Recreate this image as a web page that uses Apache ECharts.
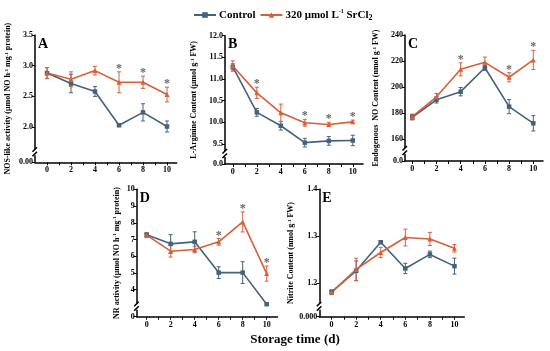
<!DOCTYPE html>
<html><head><meta charset="utf-8">
<script src="https://cdn.jsdelivr.net/npm/echarts@6/dist/echarts.min.js"></script>
<style>html,body{margin:0;padding:0;background:#fff}#c{width:550px;height:351px}</style>
</head><body><div id="c"></div><script>
// ---- data ----
const days = [0, 2, 4, 6, 8, 10];
const xTickVals = [0, 1, 2, 3, 4, 5, 6, 7, 8, 9, 10];
const xLabelVals = [0, 2, 4, 6, 8, 10];
const ctrlName = 'Control';
const trtName = '320 umol L-1 SrCl2';

// A: NOS-like activity
const ctrlA = [2.88, 2.71, 2.58, 2.03, 2.24, 2.01];
const ctrlAErr = [0.09, 0.15, 0.08, 0.02, 0.14, 0.09];
const trtA = [2.88, 2.78, 2.92, 2.73, 2.73, 2.53];
const trtAErr = [0.09, 0.12, 0.07, 0.17, 0.10, 0.12];
const sigA = [6, 8, 10];
const yTicksA = [2.0, 2.5, 3.0, 3.5];
const yBottomA = '0.00';

// B: L-Arginine
const ctrlB = [11.28, 10.23, 9.92, 9.53, 9.57, 9.58];
const ctrlBErr = [0.07, 0.09, 0.10, 0.10, 0.10, 0.12];
const trtB = [11.30, 10.68, 10.22, 9.99, 9.95, 10.01];
const trtBErr = [0.12, 0.13, 0.20, 0.08, 0.05, 0.04];
const sigB = [2, 6, 8, 10];
const yTicksB = [9.5, 10.0, 10.5, 11.0, 11.5, 12.0];
const yBottomB = '0.0';

// C: Endogenous NO
const ctrlC = [176.7, 190.2, 196.4, 214.8, 184.9, 172.1];
const ctrlCErr = [2, 2.5, 3.2, 2, 5.4, 5.9];
const trtC = [177.2, 192.5, 213.6, 219.0, 207.5, 220.8];
const trtCErr = [2, 2.5, 5, 4, 3.5, 7.4];
const sigC = [4, 8, 10];
const yTicksC = [160, 180, 200, 220, 240];
const yBottomC = '0.0';

// D: NR activity
const ctrlD = [7.28, 6.74, 6.86, 5.02, 5.02, 3.13];
const ctrlDErr = [0.10, 0.55, 0.60, 0.35, 0.65, 0.05];
const trtD = [7.26, 6.30, 6.40, 6.86, 8.05, 4.96];
const trtDErr = [0.15, 0.35, 0.20, 0.20, 0.60, 0.45];
const sigD = [6, 8, 10];
const yTicksD = [4, 5, 6, 7, 8, 9, 10];
const yBottomD = '0';

// E: Nitrite
const ctrlE = [1.181, 1.226, 1.287, 1.231, 1.261, 1.236];
const ctrlEErr = [0.004, 0.021, 0.003, 0.011, 0.007, 0.017];
const trtE = [1.180, 1.229, 1.265, 1.297, 1.294, 1.274];
const trtEErr = [0.004, 0.024, 0.011, 0.018, 0.014, 0.008];
const sigE = [];
const yTicksE = [1.2, 1.3, 1.4];
const yBottomE = '0.000';

// ---- layout / style ----
const FONT = '"Liberation Serif", "Times New Roman", serif';
const C_CTRL = '#44627c';
const C_TRT = '#d6603a';

const panels = [
  {letter:'A', ctrl:ctrlA, ce:ctrlAErr, trt:trtA, te:trtAErr, sig:sigA, ticks:yTicksA, bottom:yBottomA, dec:1,
   yMin:1.427, yMax:3.5, xMin:-1.0, xMax:10.8, left:35, top:35, width:141.6, height:127.3, gap:23,
   name:'NOS-like activity (μmol NO h{s|-1} mg{s|-1} protein)'},
  {letter:'B', ctrl:ctrlB, ce:ctrlBErr, trt:trtB, te:trtBErr, sig:sigB, ticks:yTicksB, bottom:yBottomB, dec:1,
   yMin:9.037, yMax:12.0, xMin:-0.65, xMax:10.85, left:225, top:35.7, width:138, height:128.3, gap:27,
   name:'L-Arginine Content (μmol g{s|-1} FW)'},
  {letter:'C', ctrl:ctrlC, ce:ctrlCErr, trt:trtC, te:trtCErr, sig:sigC, ticks:yTicksC, bottom:yBottomC, dec:0,
   yMin:143.1, yMax:240, xMin:-0.6, xMax:10.8, left:405, top:35, width:138, height:126,  gap:25,
   name:'Endogenous  NO Content (nmol g{s|-1} FW)'},
  {letter:'D', ctrl:ctrlD, ce:ctrlDErr, trt:trtD, te:trtDErr, sig:sigD, ticks:yTicksD, bottom:yBottomD, dec:0,
   yMin:2.385, yMax:10, xMin:-0.83, xMax:10.9, left:136.7, top:189.3, width:140.8, height:127.4, gap:16,
   name:'NR activity (μmol NO h{s|-1} mg{s|-1} protein)'},
  {letter:'E', ctrl:ctrlE, ce:ctrlEErr, trt:trtE, te:trtEErr, sig:sigE, ticks:yTicksE, bottom:yBottomE, dec:1,
   yMin:1.128, yMax:1.4, xMin:-1.0, xMax:10.8, left:319.3, top:189.3, width:145, height:127.4, gap:16,
   name:'Nitrite Content (nmol g{s|-1} FW)'}
];

function errRender(params, api) {
  const x = api.value(0), y = api.value(1), e = api.value(2);
  const t = api.coord([x, y + e]), b = api.coord([x, y - e]);
  const hw = 2;
  const style = {stroke: api.visual('color'), lineWidth: 1};
  return {type:'group', children:[
    {type:'line', shape:{x1:t[0], y1:t[1], x2:b[0], y2:b[1]}, style},
    {type:'line', shape:{x1:t[0]-hw, y1:t[1], x2:t[0]+hw, y2:t[1]}, style},
    {type:'line', shape:{x1:b[0]-hw, y1:b[1], x2:b[0]+hw, y2:b[1]}, style}
  ]};
}
function starRender(params, api) {
  const p = api.coord([api.value(0), api.value(1)]);
  return {type:'text', x:p[0], y:p[1] + 3,
    style:{text:'*', fill:'#666', font:'bold 12px ' + FONT, align:'center', verticalAlign:'bottom'}};
}

const grids = [], xAxes = [], yAxes = [], series = [], graphics = [];
panels.forEach((p, i) => {
  grids.push({left:p.left, top:p.top, width:p.width, height:p.height, containLabel:false, outerBoundsMode:'none'});
  xAxes.push({type:'value', gridIndex:i, min:p.xMin, max:p.xMax,
    axisLine:{show:true, onZero:false, lineStyle:{color:'#000', width:1.5}},
    axisTick:{show:true, length:3, inside:false, customValues:xTickVals, lineStyle:{color:'#000', width:1}},
    axisLabel:{customValues:xLabelVals, color:'#000', fontFamily:FONT, fontWeight:'bold', fontSize:8, margin:4},
    splitLine:{show:false}});
  const yVals = [p.yMin].concat(p.ticks);
  yAxes.push({type:'value', gridIndex:i, min:p.yMin, max:p.yMax,
    axisLine:{show:true, onZero:false, lineStyle:{color:'#000', width:1.5}},
    axisTick:{show:true, length:3, customValues:yVals, lineStyle:{color:'#000', width:1}},
    axisLabel:{customValues:yVals, color:'#000', fontFamily:FONT, fontWeight:'bold', fontSize:8, margin:2,
      formatter: v => Math.abs(v - p.yMin) < 1e-9 ? p.bottom : Number(v).toFixed(p.dec)},
    splitLine:{show:false},
    name:p.name, nameLocation:'middle', nameGap:p.gap,
    nameTextStyle:{color:'#000', fontFamily:FONT, fontWeight:'bold', fontSize:8,
      rich:{s:{fontSize:5, verticalAlign:'top', fontFamily:FONT, fontWeight:'bold', color:'#000'}}}});

  const ctrlData = days.map((d, j) => [d, p.ctrl[j]]);
  const trtData = days.map((d, j) => [d, p.trt[j]]);
  series.push({type:'custom', name:'errC'+i, xAxisIndex:i, yAxisIndex:i, renderItem:errRender,
    itemStyle:{color:C_CTRL}, data: days.map((d, j) => [d, p.ctrl[j], p.ce[j]]), z:2, silent:true});
  series.push({type:'custom', name:'errT'+i, xAxisIndex:i, yAxisIndex:i, renderItem:errRender,
    itemStyle:{color:C_TRT}, data: days.map((d, j) => [d, p.trt[j], p.te[j]]), z:2, silent:true});
  series.push({type:'line', name:ctrlName, xAxisIndex:i, yAxisIndex:i, data:ctrlData,
    symbol:'rect', symbolSize:4.5, lineStyle:{color:C_CTRL, width:1.6}, itemStyle:{color:C_CTRL},
    z:3, animation:false});
  series.push({type:'line', name:trtName, xAxisIndex:i, yAxisIndex:i, data:trtData,
    symbol:'triangle', symbolSize:5, lineStyle:{color:C_TRT, width:1.6}, itemStyle:{color:C_TRT},
    z:3, animation:false});
  const starData = p.sig.map(d => {
    const j = days.indexOf(d);
    return [d, Math.max(p.ctrl[j] + p.ce[j], p.trt[j] + p.te[j])];
  });
  series.push({type:'custom', name:'sig'+i, xAxisIndex:i, yAxisIndex:i, renderItem:starRender,
    data:starData, z:4, silent:true});

  // panel letter
  graphics.push({type:'text', left:p.left + 3, top:p.top + 2,
    style:{text:p.letter, font:'bold 14px ' + FONT, fill:'#000'}});
  // axis break mark
  const bx = p.left, by = p.top + p.height - 10;
  graphics.push({type:'rect', shape:{x:bx-2, y:by-3, width:4, height:6}, style:{fill:'#fff'}, z:100});
  graphics.push({type:'line', shape:{x1:bx-2.5, y1:by-0.5, x2:bx+2, y2:by-5}, style:{stroke:'#000', lineWidth:1.6}, z:101});
  graphics.push({type:'line', shape:{x1:bx-2.5, y1:by+4, x2:bx+2, y2:by-0.5}, style:{stroke:'#000', lineWidth:1.6}, z:101});
});

graphics.push({type:'text', x:295, y:340,
  style:{text:'Storage time (d)', font:'bold 13px ' + FONT, fill:'#000', align:'center', verticalAlign:'middle'}});

const chart = echarts.init(document.getElementById('c'), null, {renderer:'canvas'});
chart.setOption({
  animation:false,
  backgroundColor:'#fff',
  legend:{data:[ctrlName, trtName], left:188, top:3, itemWidth:22, itemHeight:7, itemGap:4,
    formatter: n => n === trtName ? '320 μmol L{sup|-1} SrCl{sub|2}' : n,
    textStyle:{color:'#000', fontFamily:FONT, fontWeight:'bold', fontSize:11, lineHeight:14, padding:[0,0,0,-2],
      rich:{sup:{fontSize:6, verticalAlign:'top', fontFamily:FONT, fontWeight:'bold', color:'#000'},
            sub:{fontSize:8, verticalAlign:'bottom', fontFamily:FONT, fontWeight:'bold', color:'#000'}}}},
  grid:grids, xAxis:xAxes, yAxis:yAxes, series:series, graphic:graphics
});
</script></body></html>
